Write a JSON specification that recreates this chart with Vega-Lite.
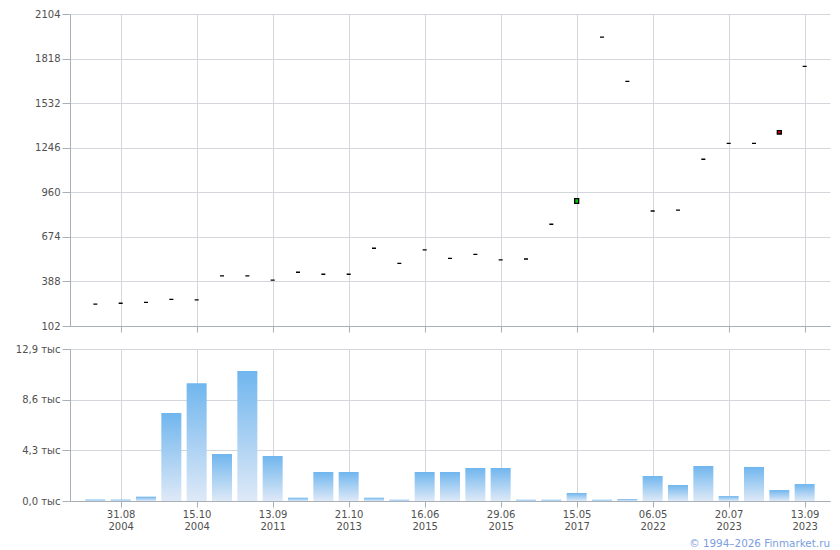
{
  "$schema": "https://vega.github.io/schema/vega-lite/v6.json",
  "padding": {"left": 15, "top": 9, "right": 5, "bottom": 5},
  "background": "white",
  "spacing": 23,
  "bounds": "flush",
  "config": {
    "font": "DejaVu Sans",
    "view": {"stroke": null},
    "axis": {
      "labelFont": "DejaVu Sans",
      "labelFontSize": 10,
      "labelColor": "#505050",
      "domainColor": "#a8afb6",
      "tickColor": "#a8afb6",
      "gridColor": "#d3d7dc",
      "gridOpacity": 1,
      "title": null
    }
  },
  "data": {
    "values": [
      {"date": "27.08 2004", "open": 243, "close": 243, "volume": 120},
      {"date": "31.08 2004", "open": 248, "close": 248, "volume": 120},
      {"date": "07.09 2004", "open": 254, "close": 254, "volume": 370},
      {"date": "21.09 2004", "open": 273, "close": 273, "volume": 7470},
      {"date": "15.10 2004", "open": 269, "close": 269, "volume": 10000},
      {"date": "12.11 2004", "open": 423, "close": 423, "volume": 3990},
      {"date": "20.12 2004", "open": 423, "close": 423, "volume": 11030},
      {"date": "13.09 2011", "open": 397, "close": 397, "volume": 3820},
      {"date": "05.03 2012", "open": 447, "close": 447, "volume": 280},
      {"date": "18.07 2012", "open": 434, "close": 434, "volume": 2460},
      {"date": "21.10 2013", "open": 434, "close": 434, "volume": 2460},
      {"date": "14.04 2014", "open": 601, "close": 601, "volume": 280},
      {"date": "22.12 2014", "open": 504, "close": 504, "volume": 110},
      {"date": "16.06 2015", "open": 590, "close": 590, "volume": 2460},
      {"date": "19.06 2015", "open": 536, "close": 536, "volume": 2460},
      {"date": "24.06 2015", "open": 562, "close": 562, "volume": 2800},
      {"date": "29.06 2015", "open": 526, "close": 526, "volume": 2800},
      {"date": "11.02 2016", "open": 532, "close": 532, "volume": 110},
      {"date": "19.09 2016", "open": 755, "close": 755, "volume": 110},
      {"date": "15.05 2017", "open": 889, "close": 919, "volume": 680},
      {"date": "12.03 2020", "open": 1955, "close": 1955, "volume": 110},
      {"date": "28.09 2021", "open": 1672, "close": 1672, "volume": 170},
      {"date": "06.05 2022", "open": 840, "close": 840, "volume": 2120},
      {"date": "21.11 2022", "open": 846, "close": 846, "volume": 1360},
      {"date": "03.04 2023", "open": 1172, "close": 1172, "volume": 2970},
      {"date": "20.07 2023", "open": 1274, "close": 1274, "volume": 420},
      {"date": "04.08 2023", "open": 1274, "close": 1274, "volume": 2890},
      {"date": "23.08 2023", "open": 1356, "close": 1334, "volume": 930},
      {"date": "13.09 2023", "open": 1768, "close": 1768, "volume": 1440}
    ]
  },
  "vconcat": [
    {
      "width": 760,
      "height": 312,
      "mark": {"type": "bar", "width": 4, "stroke": "black", "strokeWidth": 1.3},
      "encoding": {
        "x": {
          "field": "date", "type": "ordinal", "sort": null,
          "scale": {"type": "point", "padding": 1},
          "axis": {
            "values": ["31.08 2004", "15.10 2004", "13.09 2011", "21.10 2013", "16.06 2015", "29.06 2015", "15.05 2017", "06.05 2022", "20.07 2023", "13.09 2023"],
            "labels": false, "tickSize": 6, "grid": true
          }
        },
        "y": {
          "field": "open", "type": "quantitative",
          "scale": {"domain": [102, 2104], "nice": false, "zero": false},
          "axis": {"values": [102, 388, 674, 960, 1246, 1532, 1818, 2104], "tickSize": 8, "labelPadding": 2, "format": "d"}
        },
        "y2": {"field": "close"},
        "fill": {
          "condition": [
            {"test": "datum.close > datum.open", "value": "#00c800"},
            {"test": "datum.close < datum.open", "value": "#e00000"}
          ],
          "value": "black"
        }
      }
    },
    {
      "width": 760,
      "height": 152,
      "title": {"text": "© 1994–2026 Finmarket.ru", "orient": "bottom", "anchor": "end", "fontSize": 10.4, "fontWeight": "normal", "color": "#7b9ee0", "font": "DejaVu Sans", "offset": 8},
      "mark": {
        "type": "bar", "width": 20,
        "color": {
          "gradient": "linear", "x1": 0, "y1": 1, "x2": 0, "y2": 0,
          "stops": [{"offset": 0, "color": "#dee9f7"}, {"offset": 1, "color": "#70b6ee"}]
        }
      },
      "encoding": {
        "x": {
          "field": "date", "type": "ordinal", "sort": null,
          "scale": {"type": "point", "padding": 1},
          "axis": {
            "values": ["31.08 2004", "15.10 2004", "13.09 2011", "21.10 2013", "16.06 2015", "29.06 2015", "15.05 2017", "06.05 2022", "20.07 2023", "13.09 2023"],
            "labelExpr": "split(datum.label, ' ')", "labelAngle": 0, "labelLineHeight": 12,
            "tickSize": 6, "labelPadding": 2, "grid": true
          }
        },
        "y": {
          "field": "volume", "type": "quantitative",
          "scale": {"domain": [0, 12900], "nice": false},
          "axis": {"values": [0, 4300, 8600, 12900], "tickSize": 8, "labelPadding": 2,
            "labelExpr": "replace(format(datum.value / 1000, '.1f'), '.', ',') + ' тыс'"}
        }
      }
    }
  ]
}
